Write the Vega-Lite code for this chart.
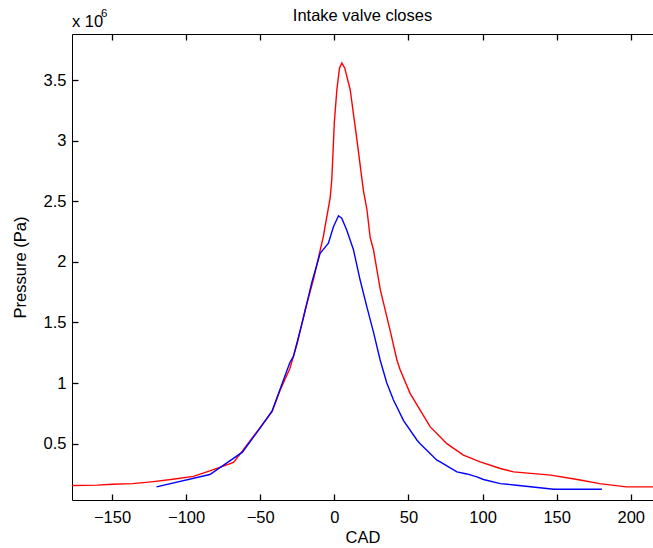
{
  "$schema": "https://vega.github.io/schema/vega-lite/v6.json",
  "width": 581,
  "height": 466,
  "autosize": {"type": "none"},
  "padding": {"left": 72, "top": 34, "right": 0, "bottom": 48},
  "background": "white",
  "config": {
    "view": {"stroke": null},
    "font": "Liberation Sans",
    "axis": {"grid": false, "domainColor": "#000", "labelColor": "#000", "titleColor": "#000", "labelFont": "Liberation Sans", "titleFont": "Liberation Sans", "labelFontSize": 16.5, "titleFontSize": 16.5, "titleFontWeight": "normal", "domainWidth": 1}
  },
  "title": {"text": "Intake valve closes", "fontSize": 16.5, "fontWeight": "normal", "font": "Liberation Sans", "color": "#000", "anchor": "middle", "offset": -16},
  "datasets": {
    "curves": [
      {"s": "red", "cad": -177, "p": 155000},
      {"s": "red", "cad": -160, "p": 158000},
      {"s": "red", "cad": -150, "p": 165000},
      {"s": "red", "cad": -136, "p": 170000},
      {"s": "red", "cad": -122, "p": 187000},
      {"s": "red", "cad": -109, "p": 206000},
      {"s": "red", "cad": -95, "p": 230000},
      {"s": "red", "cad": -84, "p": 275000},
      {"s": "red", "cad": -68, "p": 345000},
      {"s": "red", "cad": -62, "p": 440000},
      {"s": "red", "cad": -50, "p": 634000},
      {"s": "red", "cad": -42, "p": 763000},
      {"s": "red", "cad": -36.6, "p": 940000},
      {"s": "red", "cad": -30, "p": 1120000},
      {"s": "red", "cad": -25, "p": 1330000},
      {"s": "red", "cad": -20, "p": 1590000},
      {"s": "red", "cad": -14, "p": 1860000},
      {"s": "red", "cad": -7.4, "p": 2210000},
      {"s": "red", "cad": -2.8, "p": 2530000},
      {"s": "red", "cad": -1.7, "p": 2680000},
      {"s": "red", "cad": 0, "p": 3150000},
      {"s": "red", "cad": 1.7, "p": 3420000},
      {"s": "red", "cad": 3.5, "p": 3600000},
      {"s": "red", "cad": 5.1, "p": 3640000},
      {"s": "red", "cad": 7, "p": 3600000},
      {"s": "red", "cad": 10.7, "p": 3420000},
      {"s": "red", "cad": 15.2, "p": 3010000},
      {"s": "red", "cad": 19.6, "p": 2590000},
      {"s": "red", "cad": 22, "p": 2430000},
      {"s": "red", "cad": 24.2, "p": 2200000},
      {"s": "red", "cad": 26.4, "p": 2100000},
      {"s": "red", "cad": 31, "p": 1770000},
      {"s": "red", "cad": 37.7, "p": 1430000},
      {"s": "red", "cad": 42.2, "p": 1190000},
      {"s": "red", "cad": 44.4, "p": 1110000},
      {"s": "red", "cad": 51.1, "p": 915000},
      {"s": "red", "cad": 57.9, "p": 777000},
      {"s": "red", "cad": 64.6, "p": 640000},
      {"s": "red", "cad": 75.9, "p": 500000},
      {"s": "red", "cad": 87.1, "p": 405000},
      {"s": "red", "cad": 98.4, "p": 350000},
      {"s": "red", "cad": 112, "p": 295000},
      {"s": "red", "cad": 121, "p": 267000},
      {"s": "red", "cad": 146, "p": 240000},
      {"s": "red", "cad": 164, "p": 204000},
      {"s": "red", "cad": 179, "p": 170000},
      {"s": "red", "cad": 197, "p": 143000},
      {"s": "red", "cad": 215, "p": 143000},
      {"s": "blue", "cad": -120, "p": 143000},
      {"s": "blue", "cad": -84, "p": 245000},
      {"s": "blue", "cad": -62, "p": 430000},
      {"s": "blue", "cad": -50, "p": 630000},
      {"s": "blue", "cad": -42, "p": 770000},
      {"s": "blue", "cad": -36, "p": 970000},
      {"s": "blue", "cad": -30, "p": 1170000},
      {"s": "blue", "cad": -27.6, "p": 1220000},
      {"s": "blue", "cad": -20.8, "p": 1540000},
      {"s": "blue", "cad": -15.2, "p": 1830000},
      {"s": "blue", "cad": -9.6, "p": 2070000},
      {"s": "blue", "cad": -4, "p": 2154000},
      {"s": "blue", "cad": -0.6, "p": 2290000},
      {"s": "blue", "cad": 2.8, "p": 2380000},
      {"s": "blue", "cad": 5, "p": 2360000},
      {"s": "blue", "cad": 8.4, "p": 2260000},
      {"s": "blue", "cad": 12.9, "p": 2100000},
      {"s": "blue", "cad": 17.4, "p": 1850000},
      {"s": "blue", "cad": 21.9, "p": 1630000},
      {"s": "blue", "cad": 26.4, "p": 1420000},
      {"s": "blue", "cad": 30.9, "p": 1190000},
      {"s": "blue", "cad": 35.4, "p": 1000000},
      {"s": "blue", "cad": 39.9, "p": 860000},
      {"s": "blue", "cad": 46.7, "p": 690000},
      {"s": "blue", "cad": 55.7, "p": 530000},
      {"s": "blue", "cad": 57.9, "p": 500000},
      {"s": "blue", "cad": 69.2, "p": 364000},
      {"s": "blue", "cad": 71.4, "p": 350000},
      {"s": "blue", "cad": 82.7, "p": 267000},
      {"s": "blue", "cad": 89.4, "p": 250000},
      {"s": "blue", "cad": 96.2, "p": 226000},
      {"s": "blue", "cad": 100.6, "p": 204000},
      {"s": "blue", "cad": 112, "p": 170000},
      {"s": "blue", "cad": 123, "p": 157000},
      {"s": "blue", "cad": 148, "p": 124000},
      {"s": "blue", "cad": 180.5, "p": 124000}
    ],
    "exp": [
      {"cad": -177, "p": 3880000, "t": "x 10", "sup": "6"}
    ]
  },
  "layer": [
    {
      "data": {"name": "curves"},
      "transform": [{"filter": "datum.s === 'red'"}],
      "mark": {"type": "line", "strokeWidth": 1.4, "clip": true, "color": "#ff0000"},
      "encoding": {
        "x": {"field": "cad", "type": "quantitative", "scale": {"domain": [-177, 215], "nice": false, "zero": false},
              "axis": {"orient": "bottom", "title": "CAD", "ticks": false, "tickSize": 0, "values": [-150, -100, -50, 0, 50, 100, 150, 200], "labelPadding": 9, "titlePadding": 4, "labelFlush": false}},
        "y": {"field": "p", "type": "quantitative", "scale": {"domain": [35000, 3880000], "nice": false, "zero": false},
              "axis": {"orient": "left", "title": "Pressure (Pa)", "ticks": false, "tickSize": 0, "values": [500000, 1000000, 1500000, 2000000, 2500000, 3000000, 3500000], "labelExpr": "datum.value / 1000000", "labelPadding": 6, "titlePadding": 15, "labelFlush": false}},
        "order": {"field": "cad", "type": "quantitative"}
      }
    },
    {
      "data": {"name": "curves"},
      "transform": [{"filter": "datum.s === 'blue'"}],
      "mark": {"type": "line", "strokeWidth": 1.4, "clip": true, "color": "#0000ff"},
      "encoding": {
        "x": {"field": "cad", "type": "quantitative",
              "axis": {"orient": "bottom", "offset": -6, "ticks": true, "tickSize": 6, "tickColor": "#000000", "tickWidth": 1.3, "domain": false, "labels": false, "title": null, "values": [-150, -100, -50, 0, 50, 100, 150, 200]}},
        "y": {"field": "p", "type": "quantitative",
              "axis": {"orient": "left", "offset": -6, "ticks": true, "tickSize": 6, "tickColor": "#000000", "tickWidth": 1.3, "domain": false, "labels": false, "title": null, "values": [500000, 1000000, 1500000, 2000000, 2500000, 3000000, 3500000]}},
        "order": {"field": "cad", "type": "quantitative"}
      }
    },
    {
      "data": {"name": "exp"},
      "mark": {"type": "text", "align": "left", "baseline": "alphabetic", "dy": -7, "fontSize": 16.5, "font": "Liberation Sans", "color": "#000"},
      "encoding": {
        "x": {"field": "cad", "type": "quantitative", "axis": {"orient": "top", "offset": -6, "ticks": true, "tickSize": 6, "tickColor": "#000000", "tickWidth": 1.3, "domain": false, "labels": false, "title": null, "values": [-150, -100, -50, 0, 50, 100, 150, 200]}},
        "y": {"field": "p", "type": "quantitative", "axis": null},
        "text": {"field": "t"}
      }
    },
    {
      "data": {"name": "exp"},
      "mark": {"type": "text", "align": "left", "baseline": "alphabetic", "dx": 29, "dy": -17, "fontSize": 11.5, "font": "Liberation Sans", "color": "#000"},
      "encoding": {
        "x": {"field": "cad", "type": "quantitative", "axis": {"orient": "top", "ticks": false, "tickSize": 0, "labels": false, "title": null, "domain": true}},
        "y": {"field": "p", "type": "quantitative", "axis": null},
        "text": {"field": "sup"}
      }
    }
  ],
  "resolve": {"axis": {"x": "independent", "y": "independent"}}
}
